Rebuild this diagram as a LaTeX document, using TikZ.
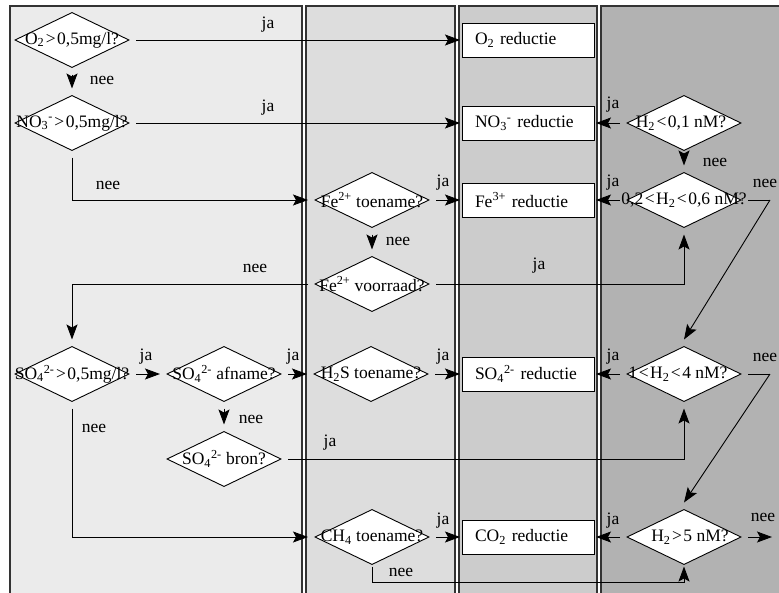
\documentclass[tikz,border=0pt]{standalone}
\usepackage{fontspec}
\setmainfont{Liberation Serif}
\usetikzlibrary{shapes.geometric,arrows.meta}
\definecolor{laneA}{HTML}{EBEBEB}
\definecolor{laneB}{HTML}{DDDDDD}
\definecolor{laneC}{HTML}{CCCCCC}
\definecolor{laneD}{HTML}{B2B2B2}
\definecolor{laneline}{HTML}{333333}
\newcommand{\mygt}{\kern1.5pt>\kern1.5pt}
\newcommand{\mylt}{\kern1.5pt<\kern1.5pt}
\begin{document}
\begin{tikzpicture}[x=1pt,y=-1pt,
  every node/.style={font=\fontsize{17.5}{21}\selectfont},
  lane/.style={draw=laneline, line width=1.2pt},
  dia/.style={diamond, draw, fill=white, line width=0.9pt, minimum width=118pt, minimum height=59pt, inner sep=0pt, outer sep=5pt},
  box/.style={draw, fill=white, line width=0.9pt, minimum height=34pt, text width=106pt, inner xsep=13pt, inner ysep=0pt, align=left, outer sep=2pt},
  con/.style={line width=0.9pt},
  arr/.style={con, -{Stealth[length=15pt,width=11pt,inset=3pt]}},
  lbl/.style={inner sep=0pt}
]
\useasboundingbox (0,0) rectangle (779,592);
% lanes
\fill[white] (0,0) rectangle (779,592);
\draw[lane, fill=laneA] (10,6) rectangle (302,600);
\draw[lane, fill=laneB] (306,6) rectangle (455,600);
\draw[lane, fill=laneC] (459,6) rectangle (597,600);
\draw[lane, fill=laneD] (601,6) rectangle (790,600);

% lane 1 diamonds
\node[dia] (d1) at (72,40) {\makebox[0pt]{O\textsubscript{2}\mygt 0,5mg/l?}};
\node[dia] (d2) at (72,123) {\makebox[0pt]{NO\textsubscript{3}\textsuperscript{-}\mygt 0,5mg/l?}};
\node[dia] (s1) at (72,374) {\makebox[0pt]{SO\textsubscript{4}\textsuperscript{2-}\mygt 0,5mg/l?}};
\node[dia] (s2) at (224,374) {\makebox[0pt]{SO\textsubscript{4}\textsuperscript{2-} afname?}};
\node[dia] (s3) at (224,459) {\makebox[0pt]{SO\textsubscript{4}\textsuperscript{2-} bron?}};
% lane 2 diamonds
\node[dia] (fe1) at (372,200) {\makebox[0pt]{Fe\textsuperscript{2+} toename?}};
\node[dia] (fe2) at (372,284) {\makebox[0pt]{Fe\textsuperscript{2+} voorraad?}};
\node[dia] (h2s) at (371,374) {\makebox[0pt]{H\textsubscript{2}S toename?}};
\node[dia] (ch4) at (372,537) {\makebox[0pt]{CH\textsubscript{4} toename?}};
% lane 3 boxes
\node[box] (b1) at (528,40) {O\textsubscript{2} reductie};
\node[box] (b2) at (528,123) {NO\textsubscript{3}\textsuperscript{-} reductie};
\node[box] (b3) at (528,200) {Fe\textsuperscript{3+} reductie};
\node[box] (b4) at (528,374) {SO\textsubscript{4}\textsuperscript{2-} reductie};
\node[box] (b5) at (528,537) {CO\textsubscript{2} reductie};
% lane 4 diamonds
\node[dia] (h1) at (684,123) {\makebox[0pt]{\hspace{-6pt}H\textsubscript{2}\mylt 0,1 nM?}};
\node[dia] (h2) at (684,200) {\makebox[0pt]{0,2\mylt H\textsubscript{2}\mylt 0,6 nM?}};
\node[dia] (h3) at (684,374) {\makebox[0pt]{\hspace{-12pt}1\mylt H\textsubscript{2}\mylt 4 nM?}};
\node[dia] (h4) at (684,537) {\makebox[0pt]{\hspace{12pt}H\textsubscript{2}\mygt 5 nM?}};

% free coordinates
\coordinate (c1) at (372,582);
\coordinate (k1) at (770,200);
\coordinate (k2) at (770,374);
\coordinate (k3) at (772,537);

% connectors lane 1/2
\draw[arr] (d1.east) -- (b1.west);
\draw[arr] (d1.south) -- (d2.north);
\draw[arr] (d2.east) -- (b2.west);
\draw[arr] (d2.south) |- (fe1.west);
\draw[arr] (fe1.east) -- (b3.west);
\draw[arr] (fe1.south) -- (fe2.north);
\draw[arr] (fe2.west) -| (s1.north);
\draw[arr] (fe2.east) -| (h2.south);
\draw[arr] (s1.east) -- (s2.west);
\draw[arr] (s2.east) -- (h2s.west);
\draw[arr] (s2.south) -- (s3.north);
\draw[arr] (s3.east) -| (h3.south);
\draw[arr] (s1.south) |- (ch4.west);
\draw[arr] (h2s.east) -- (b4.west);
\draw[arr] (ch4.east) -- (b5.west);
\draw[con] ([yshift=5pt]ch4.south) -- (c1);
\draw[arr] (c1) -| ([yshift=5pt]h4.south);
% connectors lane 4
\draw[arr] (h1.west) -- (b2.east);
\draw[arr] (h1.south) -- (h2.north);
\draw[arr] (h2.west) -- (b3.east);
\draw[con] (h2.east) -- (k1);
\draw[arr] (k1) -- (h3.north);
\draw[arr] (h3.west) -- (b4.east);
\draw[con] (h3.east) -- (k2);
\draw[arr] (k2) -- (h4.north);
\draw[arr] (h4.west) -- (b5.east);
\draw[arr] (h4.east) -- (k3);

% labels
\node[lbl] (l1) at (268,25) {ja};
\node[lbl] (l2) at (102,80) {nee};
\node[lbl] (l3) at (268,108) {ja};
\node[lbl] (l4) at (108,185) {nee};
\node[lbl] (l5) at (443,183) {ja};
\node[lbl] (l6) at (398,241) {nee};
\node[lbl] (l7) at (255,268) {nee};
\node[lbl] (l8) at (539,266) {ja};
\node[lbl] (l9) at (146,357) {ja};
\node[lbl] (l10) at (293,357) {ja};
\node[lbl] (l11) at (443,357) {ja};
\node[lbl] (l12) at (251,419) {nee};
\node[lbl] (l13) at (94,428) {nee};
\node[lbl] (l14) at (330,443) {ja};
\node[lbl] (l15) at (443,521) {ja};
\node[lbl] (l16) at (401,572) {nee};
\node[lbl] (l17) at (613,105) {ja};
\node[lbl] (l18) at (715,162) {nee};
\node[lbl] (l19) at (613,183) {ja};
\node[lbl] (l20) at (765,183) {nee};
\node[lbl] (l21) at (613,357) {ja};
\node[lbl] (l22) at (765,357) {nee};
\node[lbl] (l23) at (613,521) {ja};
\node[lbl] (l24) at (763,517) {nee};
\end{tikzpicture}
\end{document}
